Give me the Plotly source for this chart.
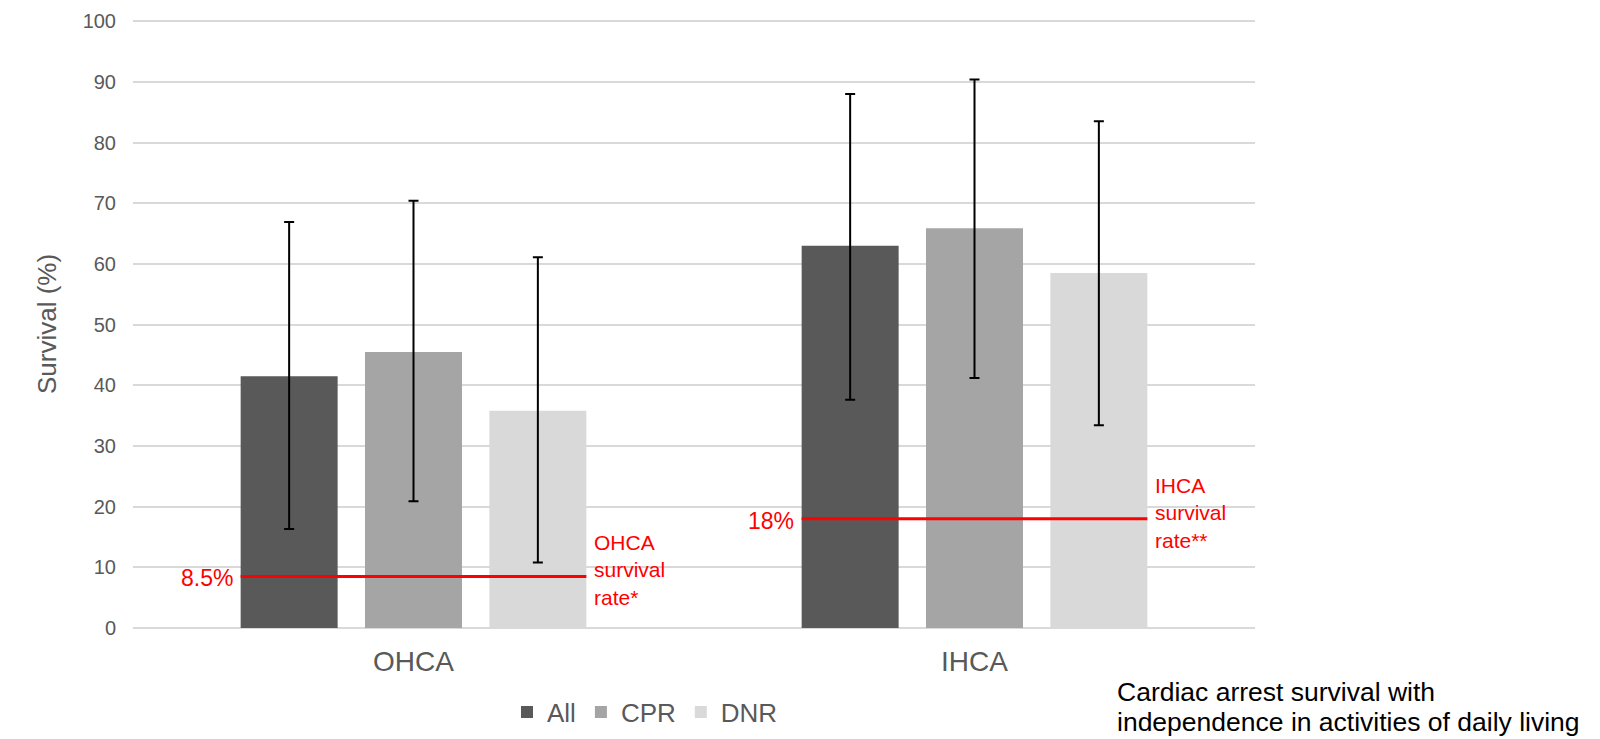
import plotly.graph_objects as go

categories = ["OHCA", "IHCA"]
series_names = ["All", "CPR", "DNR"]
series_colors = ["#595959", "#a5a5a5", "#d9d9d9"]
survival = {
    "All": [41.5, 63.0],
    "CPR": [45.5, 65.9],
    "DNR": [35.8, 58.5],
}
ci_upper = {
    "All": [66.9, 88.0],
    "CPR": [70.4, 90.4],
    "DNR": [61.1, 83.5],
}
ci_lower = {
    "All": [16.3, 37.6],
    "CPR": [20.9, 41.2],
    "DNR": [10.8, 33.4],
}
baseline_rates = [8.5, 18]
rate_labels = ["8.5%", "18%"]
rate_texts = ["OHCA<br>survival<br>rate*", "IHCA<br>survival<br>rate**"]
y_ticks = list(range(0, 101, 10))
note_lines = ["Cardiac arrest survival with", "independence in activities of daily living"]

W, H = 1600, 739
ML, MR, MT, MB = 133, 345, 20, 111
PW, PH = W - ML - MR, H - MT - MB

BARGAP = 0.335
BARGROUPGAP = 0.22
FONT = "Liberation Sans, Arial, sans-serif"
GREY = "#595959"
RED = "#ff0000"


def px_x(px):
    return (px - ML) / PW


def px_y(py):
    return (H - MB - py) / PH


fig = go.Figure()
for name, color in zip(series_names, series_colors):
    vals = survival[name]
    up = [u - v for u, v in zip(ci_upper[name], vals)]
    lo = [v - l for l, v in zip(ci_lower[name], vals)]
    fig.add_trace(go.Bar(
        x=categories, y=vals, name=name,
        marker=dict(color=color, line=dict(width=0)),
        error_y=dict(type="data", symmetric=False, array=up, arrayminus=lo,
                     color="black", thickness=2, width=5),
    ))

slot = (1 - BARGAP) / len(series_names)
half_span = slot * len(series_names) / 2 - slot * BARGROUPGAP / 2

for i, (rate, lab, txt) in enumerate(zip(baseline_rates, rate_labels, rate_texts)):
    fig.add_shape(type="line", xref="x", yref="y",
                  x0=i - half_span, x1=i + half_span, y0=rate, y1=rate,
                  line=dict(color=RED, width=3), layer="above")
    fig.add_annotation(x=i - half_span, y=rate, xref="x", yref="y",
                       text=lab, showarrow=False, xanchor="right", yanchor="middle",
                       xshift=-6, yshift=-2, font=dict(family=FONT, size=23, color=RED))
    fig.add_annotation(x=i + half_span, y=rate, xref="x", yref="y",
                       text=txt, showarrow=False, xanchor="left", yanchor="middle",
                       align="left", xshift=6, yshift=6,
                       font=dict(family=FONT, size=21, color=RED))

for line, py in zip(note_lines, [692, 722]):
    fig.add_annotation(x=px_x(1115), y=px_y(py), xref="paper", yref="paper",
                       text=line, showarrow=False, xanchor="left", yanchor="middle",
                       align="left", font=dict(family=FONT, size=26.5, color="black"))

fig.update_layout(
    width=W, height=H,
    margin=dict(l=ML, r=MR, t=MT, b=MB, autoexpand=False),
    paper_bgcolor="white", plot_bgcolor="white",
    barmode="group", bargap=BARGAP, bargroupgap=BARGROUPGAP,
    font=dict(family=FONT, color=GREY, size=18),
    showlegend=True,
    legend=dict(orientation="h", x=px_x(645), xanchor="center", y=px_y(712), yanchor="middle",
                font=dict(family=FONT, size=26, color=GREY), itemwidth=30,
                traceorder="normal"),
    xaxis=dict(showgrid=False, ticks="", tickfont=dict(family=FONT, size=28, color=GREY),
               ticklabelstandoff=14, showline=False, zeroline=False),
    yaxis=dict(range=[0, 100.2], tickvals=y_ticks, showgrid=True, gridcolor="#d9d9d9",
               gridwidth=1.5, zeroline=True, zerolinecolor="#d9d9d9", zerolinewidth=1.5,
               ticks="", ticklabelstandoff=16,
               tickfont=dict(family=FONT, size=20, color=GREY),
               title=dict(text="Survival (%)", standoff=18,
                          font=dict(family=FONT, size=26, color=GREY))),
)

fig.write_html("out.html", config={"displayModeBar": False},
               post_script="document.body.style.margin='0px';document.body.style.overflow='hidden';")
